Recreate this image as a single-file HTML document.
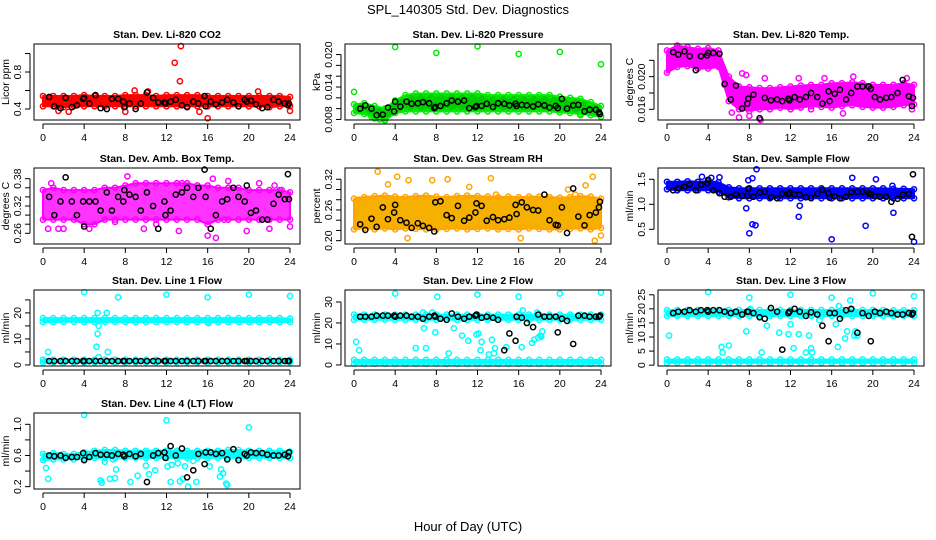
<!DOCTYPE html>
<html><head><meta charset="utf-8"><style>
html,body{margin:0;padding:0;background:#fff;}
svg{display:block;font-family:"Liberation Sans",Arial,sans-serif;}
</style></head><body>
<svg id="chart" width="936" height="540" viewBox="0 0 936 540" xmlns="http://www.w3.org/2000/svg">
<rect x="0" y="0" width="936" height="540" fill="#fff"/>
<text x="468" y="14" text-anchor="middle" font-size="13">SPL_140305  Std. Dev. Diagnostics</text>
<text x="468" y="531" text-anchor="middle" font-size="13">Hour of Day (UTC)</text>
</svg>
<script>
const bandHours=[0,1,2,3,4,5,6,7,8,9,10,11,12,13,14,15,16,17,18,19,20,21,22,23,24];
const blackHours=[0.6,1.1,1.7,2.2,2.8,3.3,3.9,4.0,4.5,5.1,5.6,6.2,6.7,7.3,7.8,7.9,8.4,9.0,9.5,10.1,10.7,11.2,11.8,11.9,12.4,12.9,13.5,14.0,14.6,15.1,15.7,15.8,16.3,16.8,17.4,17.9,18.5,19.0,19.6,19.8,20.2,20.7,21.3,21.8,22.4,22.9,23.5,23.8,23.9];
const xTicks=[0,4,8,12,16,20,24];

const co2Lo=[0.43,0.43,0.42,0.43,0.43,0.43,0.43,0.43,0.43,0.43,0.43,0.43,0.43,0.43,0.43,0.43,0.43,0.43,0.43,0.43,0.43,0.43,0.42,0.43,0.43];
const co2Hi=[0.54,0.54,0.54,0.54,0.55,0.54,0.54,0.54,0.55,0.55,0.55,0.54,0.55,0.55,0.55,0.55,0.54,0.54,0.54,0.54,0.54,0.54,0.54,0.54,0.53];
const co2Black=[0.53,0.43,0.41,0.52,0.42,0.44,0.51,0.52,0.46,0.55,0.41,0.40,0.51,0.51,0.48,0.42,0.46,0.40,0.46,0.58,0.52,0.47,0.47,0.46,0.48,0.50,0.44,0.42,0.48,0.46,0.54,0.43,0.48,0.45,0.47,0.50,0.47,0.43,0.50,0.48,0.49,0.45,0.41,0.42,0.50,0.48,0.46,0.44,0.46];
const co2OutH=[13.4,12.8,13.3,16,10.2,8.9,20.9,1.5,8,24,2.5,15.2];
const co2OutV=[1.08,0.90,0.70,0.30,0.59,0.60,0.59,0.38,0.37,0.38,0.37,0.37];

const presLo=[0.0092,0.0090,0.0082,0.0078,0.0092,0.0095,0.0095,0.0095,0.0095,0.0095,0.0095,0.0095,0.0095,0.0095,0.0095,0.0095,0.0095,0.0095,0.0095,0.0095,0.0093,0.0092,0.0090,0.0088,0.0085];
const presHi=[0.0108,0.0110,0.0105,0.0100,0.0115,0.0125,0.0128,0.0128,0.0128,0.0128,0.0128,0.0128,0.0128,0.0125,0.0125,0.0125,0.0125,0.0125,0.0125,0.0125,0.0122,0.0120,0.0118,0.0112,0.0105];
const presBlack=[0.0100,0.0106,0.0100,0.0088,0.0089,0.0102,0.0095,0.0113,0.0104,0.0113,0.0109,0.0110,0.0112,0.0110,0.0101,0.0103,0.0105,0.0110,0.0115,0.0113,0.0115,0.0101,0.0103,0.0105,0.0105,0.0109,0.0103,0.0110,0.0109,0.0106,0.0109,0.0105,0.0107,0.0106,0.0104,0.0108,0.0106,0.0102,0.0105,0.0101,0.0118,0.0100,0.0106,0.0107,0.0095,0.0098,0.0098,0.0093,0.0090];
const presOutH=[0,4,8,12,16,20,24,3,2.5,22,1.7];
const presOutV=[0.0131,0.0214,0.0203,0.0215,0.0201,0.0205,0.0182,0.0079,0.0080,0.0088,0.0085];

const tempLo=[0.0205,0.0212,0.0213,0.0210,0.0210,0.0212,0.0170,0.0160,0.0158,0.0160,0.0160,0.0162,0.0160,0.0162,0.0164,0.0163,0.0162,0.0164,0.0165,0.0163,0.0162,0.0162,0.0163,0.0165,0.0166];
const tempHi=[0.0232,0.0238,0.0236,0.0234,0.0235,0.0232,0.0200,0.0188,0.0187,0.0186,0.0186,0.0187,0.0188,0.0189,0.0190,0.0190,0.0192,0.0192,0.0193,0.0192,0.0190,0.0190,0.0190,0.0192,0.0190];
const tempBlack=[0.0230,0.0227,0.0231,0.0225,0.0208,0.0225,0.0226,0.0229,0.0229,0.0228,0.0191,0.0172,0.0189,0.0161,0.0167,0.0173,0.0178,0.0149,0.0174,0.0171,0.0172,0.0170,0.0173,0.0171,0.0175,0.0172,0.0175,0.0180,0.0175,0.0167,0.0182,0.0170,0.0179,0.0184,0.0172,0.0180,0.0188,0.0188,0.0188,0.0185,0.0175,0.0172,0.0174,0.0175,0.0180,0.0196,0.0176,0.0164,0.0174];
const tempOutH=[7,9.1,8,17.1,6.3,14,23.8,7.3,7.7,12.8,18.1,15.3,23.3,5.6,9.5];
const tempOutV=[0.0150,0.0147,0.0152,0.0155,0.0156,0.0160,0.0160,0.0204,0.0202,0.0198,0.0200,0.0198,0.0198,0.0190,0.0198];

const ambLo=[0.29,0.29,0.29,0.29,0.28,0.28,0.29,0.29,0.29,0.29,0.29,0.29,0.29,0.29,0.29,0.29,0.28,0.29,0.29,0.29,0.29,0.29,0.29,0.29,0.29];
const ambHi=[0.355,0.36,0.355,0.355,0.355,0.355,0.36,0.36,0.365,0.37,0.37,0.37,0.37,0.37,0.37,0.365,0.365,0.36,0.36,0.36,0.355,0.355,0.355,0.355,0.35];
const ambBlack=[0.34,0.30,0.33,0.383,0.33,0.30,0.33,0.275,0.33,0.33,0.31,0.35,0.31,0.34,0.33,0.355,0.345,0.34,0.31,0.35,0.32,0.27,0.33,0.30,0.31,0.345,0.35,0.36,0.34,0.36,0.40,0.34,0.27,0.30,0.33,0.335,0.36,0.34,0.33,0.365,0.305,0.31,0.29,0.29,0.325,0.345,0.335,0.39,0.335];
const ambOutH=[0.5,0.8,1.5,8.2,13.5,16.5,18,21,22.5,23.2,4.5,9.8,13.2,16,16.8,19.8,22,24,2,7,11,17.6];
const ambOutV=[0.27,0.37,0.27,0.385,0.37,0.38,0.375,0.37,0.365,0.355,0.27,0.27,0.265,0.255,0.25,0.265,0.27,0.275,0.27,0.285,0.28,0.29];

const rhLo=[0.222,0.225,0.222,0.224,0.222,0.224,0.223,0.222,0.222,0.223,0.224,0.222,0.223,0.224,0.222,0.223,0.222,0.224,0.223,0.222,0.222,0.223,0.224,0.222,0.225];
const rhHi=[0.282,0.285,0.287,0.288,0.286,0.285,0.287,0.288,0.286,0.285,0.287,0.288,0.287,0.286,0.285,0.286,0.285,0.286,0.286,0.285,0.284,0.285,0.287,0.286,0.282];
const rhBlack=[0.232,0.221,0.243,0.227,0.265,0.242,0.255,0.270,0.240,0.235,0.225,0.234,0.229,0.225,0.218,0.275,0.277,0.250,0.244,0.268,0.239,0.245,0.255,0.273,0.268,0.239,0.246,0.240,0.242,0.245,0.270,0.252,0.275,0.265,0.260,0.259,0.290,0.240,0.231,0.230,0.265,0.215,0.302,0.247,0.230,0.250,0.255,0.265,0.276];
const rhOutH=[2.3,4.2,5.3,3.3,7.6,9.1,13.3,11.2,20.8,23.2,23.4,24,5.2,16.2,0.5,13.8,21.5,22.5];
const rhOutV=[0.335,0.325,0.318,0.31,0.318,0.32,0.322,0.305,0.30,0.325,0.20,0.21,0.205,0.205,0.28,0.29,0.29,0.308];

const sfLo=[1.30,1.28,1.28,1.28,1.28,1.25,1.14,1.12,1.12,1.12,1.12,1.12,1.12,1.12,1.12,1.12,1.12,1.12,1.12,1.12,1.12,1.12,1.12,1.12,1.12];
const sfHi=[1.45,1.45,1.46,1.45,1.46,1.44,1.34,1.32,1.32,1.32,1.32,1.32,1.32,1.32,1.32,1.32,1.32,1.32,1.32,1.32,1.32,1.32,1.31,1.31,1.30];
const sfBlack=[1.28,1.32,1.35,1.40,1.28,1.39,1.42,1.49,1.28,1.22,1.15,1.15,1.20,1.17,1.17,1.31,1.15,1.23,1.25,1.14,1.12,1.21,1.20,1.23,1.20,1.19,1.14,1.13,1.21,1.29,1.22,1.13,1.16,1.12,1.15,1.24,1.25,1.25,1.22,1.20,1.16,1.15,1.15,1.05,1.11,1.19,1.21,0.35,1.60];
const sfOutH=[7.7,8,8.3,8.6,8.7,8.3,12.8,12.9,16,19.3,22,24,18,20.3,5.1,3.4,4.3,21.9,7.9];
const sfOutV=[0.92,0.42,0.60,0.58,1.70,1.52,0.75,0.97,0.30,0.57,0.83,0.25,1.53,1.50,1.54,1.55,1.53,1.37,1.48];

const l1Lo=[16.5,16.5,16.6,16.6,16.5,16.5,16.5,16.6,16.5,16.5,16.5,16.5,16.5,16.5,16.5,16.5,16.5,16.5,16.5,16.5,16.5,16.5,16.5,16.5,16.5];
const l1Hi=[18.0,18.0,18.0,18.0,18.0,18.0,18.0,18.0,18.0,18.0,18.0,18.0,18.0,18.0,18.0,18.0,18.0,18.0,18.0,18.0,18.0,18.0,18.0,18.0,17.8];
const l1BaseLo=[1.0,1.0,1.0,1.0,1.0,1.0,1.0,1.0,1.0,1.0,1.0,1.0,1.0,1.0,1.0,1.0,1.0,1.0,1.0,1.0,1.0,1.0,1.0,1.0,1.0];
const l1BaseHi=[2.0,2.0,2.0,2.0,2.0,2.0,2.0,2.0,2.0,2.0,2.0,2.0,2.0,2.0,2.0,2.0,2.0,2.0,2.0,2.0,2.0,2.0,2.0,2.0,2.0];
const l1Black=[1.5,1.5,1.5,1.5,1.5,1.5,1.5,1.5,1.5,1.5,1.5,1.5,1.5,1.5,1.5,1.5,1.5,1.5,1.5,1.5,1.5,1.5,1.5,1.5,1.5,1.5,1.5,1.5,1.5,1.5,1.5,1.5,1.5,1.5,1.5,1.5,1.5,1.5,1.5,1.5,1.5,1.5,1.5,1.5,1.5,1.5,1.5,1.5,1.5];
const l1OutH=[0.5,4,5.3,5.3,5.2,5.4,6.2,6.3,7.3,12,16,20,24,5.4,16.1,0.2];
const l1OutV=[5,28,20,12,7,15,20,5,26,27,26,27,26.5,3,16,1.5];

const l2Lo=[21.5,21.5,21.5,21.5,21.5,21.5,21.5,21.5,21.5,21.5,21.5,21.5,21.5,21.5,21.5,21.5,21.5,21.5,21.5,21.5,21.5,21.5,21.5,21.5,21.5];
const l2Hi=[24.0,24.0,24.0,24.0,24.0,24.0,24.0,24.0,24.0,24.0,24.0,24.0,24.0,24.0,24.0,24.0,24.0,24.0,24.0,24.0,24.0,24.0,24.0,24.0,24.0];
const l2BaseLo=[0.6,0.6,0.6,0.6,0.6,0.6,0.6,0.6,0.6,0.6,0.6,0.6,0.6,0.6,0.6,0.6,0.6,0.6,0.6,0.6,0.6,0.6,0.6,0.6,0.6];
const l2BaseHi=[2.4,2.4,2.4,2.4,2.4,2.4,2.4,2.4,2.4,2.4,2.4,2.4,2.4,2.4,2.4,2.4,2.4,2.4,2.4,2.4,2.4,2.4,2.4,2.4,2.4];
const l2Black=[23,23,23,23.5,23.5,23.5,23.5,23,23.5,23.5,23,23,22,23,23.5,23,22,21.5,24.5,23,22,23,23.5,24,22.5,23,22.5,21.5,7,15,11.5,23,22.5,20,18,24,23,23,23,15.5,22,21,10,23.5,23.5,23,23,23,23.5];
const l2OutH=[0.2,0.5,4,6,6.8,7,7.9,8.1,9.2,9.7,10.5,11.1,11.9,12,12.1,12.3,12.4,13.1,13.4,13.6,13.7,14.8,16,16.3,16.4,17.3,17.5,17.9,18.1,18.2,18.3,20,24,6.7,7.6,17.8];
const l2OutV=[11,7,34,8,17.5,8,15.5,32.5,5.5,17.5,14,11.5,14.5,33.5,15,7,11,5,12,5.5,8,8.5,32.5,8.5,26,10.5,12,13,14,13.5,16,34,34.5,25,25,25];

const l3Lo=[17.5,17.5,17.5,17.5,17.5,17.5,17.5,17.5,17.5,17.5,17.5,17.5,17.5,17.5,17.5,17.5,17.5,17.5,17.5,17.5,17.5,17.5,17.5,17.5,17.5];
const l3Hi=[19.5,19.6,19.6,19.6,19.6,19.6,19.6,19.6,19.6,19.6,19.6,19.6,19.6,19.6,19.6,19.6,19.6,19.6,19.6,19.6,19.6,19.6,19.5,19.5,19.5];
const l3BaseLo=[0.8,0.8,0.8,0.8,0.8,0.8,0.8,0.8,0.8,0.8,0.8,0.8,0.8,0.8,0.8,0.8,0.8,0.8,0.8,0.8,0.8,0.8,0.8,0.8,0.8];
const l3BaseHi=[2.0,2.0,2.0,2.0,2.0,2.0,2.0,2.0,2.0,2.0,2.0,2.0,2.0,2.0,2.0,2.0,2.0,2.0,2.0,2.0,2.0,2.0,2.0,2.0,2.0];
const l3Black=[18.5,19,19,19.5,19,19.5,19.5,19,19.5,19.5,19,18.5,19,18,19,19,18.5,17,16.5,20.3,19,5.5,18.5,19,20,19,17.5,18.8,18,14,8.5,18.5,18.5,16.5,19.5,20,11.5,18.5,17.5,8.5,19,18.5,19,18.5,18,18,18.5,18,18.5];
const l3OutH=[0.2,4,8,12,16,20,24,5.3,5.4,6,7.7,8.1,9.2,9.7,10.9,11.8,12,12.3,12.8,13.5,13.8,14,14.1,14.8,16.4,16.6,16.7,17.3,17.8,17.5,18.2,18.3,18.5];
const l3OutV=[10.5,26,24,25,24,25.5,24.5,6.5,4.5,7,12,20,4.5,14,11.5,11,14.5,6,11,4.5,10.5,6,4.5,16,14.5,6.5,21,9.5,23,12,10.5,12,10.5];

const l4Lo=[0.54,0.55,0.55,0.55,0.56,0.57,0.57,0.57,0.57,0.57,0.57,0.57,0.57,0.57,0.57,0.57,0.57,0.57,0.57,0.57,0.57,0.57,0.57,0.57,0.57];
const l4Hi=[0.62,0.63,0.62,0.62,0.64,0.66,0.67,0.67,0.66,0.66,0.66,0.66,0.66,0.66,0.66,0.66,0.66,0.66,0.67,0.67,0.66,0.66,0.66,0.66,0.65];
const l4Black=[0.60,0.59,0.60,0.57,0.58,0.58,0.63,0.54,0.58,0.63,0.61,0.61,0.60,0.62,0.61,0.59,0.62,0.59,0.62,0.26,0.60,0.63,0.64,0.57,0.72,0.60,0.69,0.32,0.41,0.62,0.49,0.64,0.64,0.62,0.63,0.55,0.68,0.54,0.62,0.60,0.64,0.63,0.63,0.61,0.60,0.60,0.61,0.59,0.64];
const l4OutH=[0.3,0.5,4,5.6,5.7,6,6.5,6.8,7,7.1,8.5,9.2,10,10.3,10.9,12,12.1,12.4,12.5,13.1,13.3,13.6,13.8,14.1,14.6,14.9,16.2,17.2,17.3,17.5,17.8,17.9,20];
const l4OutV=[0.44,0.30,1.12,0.28,0.25,0.52,0.30,0.55,0.31,0.42,0.26,0.34,0.47,0.36,0.41,1.05,0.46,0.26,0.48,0.50,0.27,0.30,0.46,0.20,0.53,0.26,0.46,0.33,0.42,0.37,0.24,0.22,0.96];

const panelTitles=["Stan. Dev. Li-820 CO2","Stan. Dev. Li-820 Pressure","Stan. Dev. Li-820 Temp.","Stan. Dev. Amb. Box Temp.","Stan. Dev. Gas Stream RH","Stan. Dev. Sample Flow","Stan. Dev. Line 1 Flow","Stan. Dev. Line 2 Flow","Stan. Dev. Line 3 Flow","Stan. Dev. Line 4 (LT) Flow"];
const yTitles=["Licor ppm","kPa","degrees C","degrees C","percent","ml/min","ml/min","ml/min","ml/min","ml/min"];
const yTickSets=[[0.4,0.6,0.8,1.0],[0.008,0.010,0.012,0.014,0.016,0.018,0.020],[0.016,0.018,0.020,0.022],[0.26,0.28,0.30,0.32,0.34,0.36,0.38],[0.20,0.22,0.24,0.26,0.28,0.30,0.32],[0.5,1.0,1.5],[0,5,10,15,20,25],[0,10,20,30],[0,5,10,15,20,25],[0.2,0.4,0.6,0.8,1.0]];
const yLabelSets=[["0.4","","0.8",""],["0.008","","","0.014","","","0.020"],["0.016","","0.020",""],["0.26","","","0.32","","","0.38"],["0.20","","","0.26","","","0.32"],["0.5","1.0","1.5"],["0","","10","","20",""],["0","10","20","30"],["0","5","10","15","20","25"],["0.2","","0.6","","1.0"]];
const yRanges=[[0.281,1.103],[0.0079,0.02195],[0.01469,0.0240],[0.2365,0.4035],[0.1935,0.342],[0.206,1.726],[-0.4,28.8],[-0.5,35.7],[-0.3,26.7],[0.17,1.145]];

const panels=[
 {lo:co2Lo,hi:co2Hi,black:co2Black,oh:co2OutH,ov:co2OutV,col:"#ff0000",fill:"#ff0000"},
 {lo:presLo,hi:presHi,black:presBlack,oh:presOutH,ov:presOutV,col:"#00ee00",fill:"#00cc00"},
 {lo:tempLo,hi:tempHi,black:tempBlack,oh:tempOutH,ov:tempOutV,col:"#ff00ff",fill:"#ff00ff"},
 {lo:ambLo,hi:ambHi,black:ambBlack,oh:ambOutH,ov:ambOutV,col:"#ff00ff",fill:"#ff33ff"},
 {lo:rhLo,hi:rhHi,black:rhBlack,oh:rhOutH,ov:rhOutV,col:"#ffa500",fill:"#f5b000"},
 {lo:sfLo,hi:sfHi,black:sfBlack,oh:sfOutH,ov:sfOutV,col:"#0000ff",fill:"#0000ff"},
 {lo:l1Lo,hi:l1Hi,blo:l1BaseLo,bhi:l1BaseHi,black:l1Black,oh:l1OutH,ov:l1OutV,col:"#00ffff",fill:"#00ffff"},
 {lo:l2Lo,hi:l2Hi,blo:l2BaseLo,bhi:l2BaseHi,black:l2Black,oh:l2OutH,ov:l2OutV,col:"#00ffff",fill:"#00ffff"},
 {lo:l3Lo,hi:l3Hi,blo:l3BaseLo,bhi:l3BaseHi,black:l3Black,oh:l3OutH,ov:l3OutV,col:"#00ffff",fill:"#00ffff"},
 {lo:l4Lo,hi:l4Hi,black:l4Black,oh:l4OutH,ov:l4OutV,col:"#00ffff",fill:"#00ffff"}
];

const NS="http://www.w3.org/2000/svg";
const svg=document.getElementById("chart");
const boxLefts=[34,345,658], boxTops=[44,168,290,413], BW=266, BH=76;
function mk(tag,attrs,parent){const e=document.createElementNS(NS,tag);for(const k in attrs)e.setAttribute(k,attrs[k]);parent.appendChild(e);return e;}

panels.forEach((p,i)=>{
  const L=boxLefts[i%3], T=boxTops[Math.floor(i/3)];
  const g=mk("g",{},svg);
  
  
  const [y0,y1]=yRanges[i];
  const xs=h=>L+9+h*(247/24);
  const ys=v=>T+BH-(v-y0)/(y1-y0)*BH;
  const ttl=mk("text",{x:L+BW/2,y:T-6,"text-anchor":"middle","font-size":"10.5","font-weight":"bold"},g);
  ttl.textContent=panelTitles[i];
  
  
  const bands=[[p.lo,p.hi]]; if(p.blo) bands.push([p.blo,p.bhi]);
  bands.forEach(([lo,hi])=>{
    let pts=bandHours.map((h,k)=>xs(h)+","+ys(hi[k]));
    pts=pts.concat(bandHours.slice().reverse().map((h,k)=>xs(h)+","+ys(lo[lo.length-1-k])));
    const poly=mk("polygon",{points:pts.join(" "),fill:p.fill,stroke:p.col,"stroke-width":"2","stroke-linejoin":"round"},g);
    
    
    bandHours.forEach((h,k)=>{
      [lo[k],hi[k]].forEach(v=>{
        const c=mk("circle",{cx:xs(h),cy:ys(v),r:2.6,fill:"none",stroke:p.col,"stroke-width":"1.5"},g);
        
        
      });
    });
  });
  p.oh.forEach((h,k)=>{
    const c=mk("circle",{cx:xs(h),cy:ys(p.ov[k]),r:2.6,fill:"none",stroke:p.col,"stroke-width":"1.5"},g);
    
    
  });
  blackHours.forEach((h,k)=>{
    const c=mk("circle",{cx:xs(h),cy:ys(p.black[k]),r:2.6,fill:"none",stroke:"#000","stroke-width":"1.5"},g);
    
    
  });
  const box=mk("rect",{x:L,y:T,width:BW,height:BH,fill:"none",stroke:"#000","stroke-width":"1"},g);
  
  
  mk("line",{x1:xs(0),x2:xs(24),y1:T+BH+4,y2:T+BH+4,stroke:"#000"},g);
  xTicks.forEach(t=>{
    mk("line",{x1:xs(t),x2:xs(t),y1:T+BH+4,y2:T+BH+9,stroke:"#000"},g);
    const tl=mk("text",{x:xs(t),y:T+BH+21,"text-anchor":"middle","font-size":"10.5"},g);
    tl.textContent=t;
    
    
  });
  const yt=yTickSets[i];
  mk("line",{x1:L-4,x2:L-4,y1:ys(yt[0]),y2:ys(yt[yt.length-1]),stroke:"#000"},g);
  yt.forEach((t,k)=>{
    mk("line",{x1:L-9,x2:L-4,y1:ys(t),y2:ys(t),stroke:"#000"},g);
    const lab=yLabelSets[i][k];
    if(lab){
      const tx=L-13, ty=ys(t);
      const tl=mk("text",{x:tx,y:ty,"text-anchor":"middle","font-size":"10.5",transform:"rotate(-90 "+tx+" "+ty+")"},g);
      tl.textContent=lab;
      
      
    }
  });
  const yx=L-25, yy=T+BH/2;
  const yl=mk("text",{x:yx,y:yy,"text-anchor":"middle","font-size":"10.5",transform:"rotate(-90 "+yx+" "+yy+")"},g);
  yl.textContent=yTitles[i];
  
  
});
</script>
</body></html>
